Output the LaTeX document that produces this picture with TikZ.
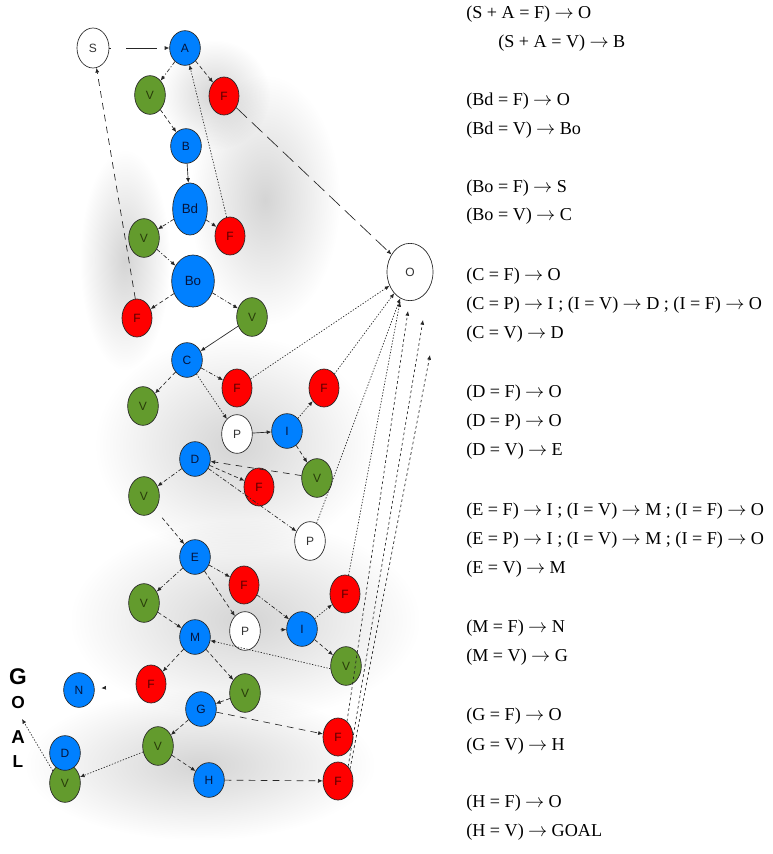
\documentclass[tikz,border=0pt]{standalone}
\usepackage{fontspec}
\setmainfont{Liberation Serif}
\newfontfamily\lblfont{Liberation Sans}
\usetikzlibrary{shapes.geometric,arrows.meta,fadings}

\tikzfading[name=softblob, inner color=transparent!0, outer color=transparent!100]

\definecolor{nblue}{RGB}{0,128,255}
\definecolor{nred}{RGB}{255,0,0}
\definecolor{ngreen}{RGB}{99,155,45}
\definecolor{tblue}{RGB}{5,20,60}
\definecolor{tred}{RGB}{85,0,0}
\definecolor{tgreen}{RGB}{40,60,10}

% long thin arrow used in the rule list
\newcommand\rto{\kern0.24em$\rightarrow$\kern0.24em}

\tikzset{
  basenode/.style={ellipse, draw=black!85, line width=0.5pt, inner sep=0pt,
    font=\lblfont\fontsize{9}{10}\selectfont},
  bnode/.style={basenode, fill=nblue, text=tblue, minimum width=23pt, minimum height=26pt},
  rnode/.style={basenode, fill=nred, text=tred, minimum width=22.5pt, minimum height=28.5pt},
  gnode/.style={basenode, fill=ngreen, text=tgreen, minimum width=23pt, minimum height=29pt},
  wnode/.style={basenode, fill=white, text=black!80, minimum width=23pt, minimum height=29pt},
  arr/.style={-{Latex[length=3.5pt,width=3pt]}, line width=0.5pt, draw=black!85},
  esolid/.style={arr},
  edash/.style={arr, dash pattern=on 3pt off 2pt},
  edot/.style={arr, dash pattern=on 1pt off 1.2pt},
  edd/.style={arr, dash pattern=on 3pt off 1.5pt on 0.8pt off 1.5pt},
  elong/.style={arr, dash pattern=on 11pt off 5pt},
  emid/.style={arr, dash pattern=on 5pt off 4pt},
  rtxt/.style={anchor=west, inner sep=0pt, font=\fontsize{13.6}{16}\selectfont},
  goaltxt/.style={inner sep=0pt, font=\lblfont\bfseries},
  haze/.style={black, opacity=0.17, path fading=softblob}
}

\begin{document}
\begin{tikzpicture}[x=0.75pt,y=-0.75pt]
\useasboundingbox (0,0) rectangle (773,854);
\fill[white] (0,0) rectangle (773,854);

% soft grey haze behind the chart
\fill[haze] (265,200) ellipse (75 and 125);
\fill[haze] (125,260) ellipse (45 and 110);
\fill[haze] (235,445) ellipse (140 and 110);
\fill[haze] (245,620) ellipse (175 and 100);
\fill[haze] (200,765) ellipse (175 and 75);
\fill[haze] (215,95) ellipse (55 and 55);

% nodes
\node[wnode, minimum width=24pt, minimum height=30pt] (S) at (93,48) {S};
\node[bnode] (A) at (185,48) {A};
\node[gnode] (V1) at (150,95) {V};
\node[rnode] (F1) at (224,96) {F};
\node[bnode] (B) at (186,146) {B};
\node[bnode, minimum width=26pt, minimum height=39pt, font=\lblfont\fontsize{10}{11}\selectfont] (Bd) at (190,209) {Bd};
\node[gnode] (V2) at (144,238) {V};
\node[rnode] (F2) at (230,236) {F};
\node[bnode, minimum width=32pt, minimum height=39pt, font=\lblfont\fontsize{10}{11}\selectfont] (Bo) at (193,281) {Bo};
\node[rnode] (F3) at (137,318) {F};
\node[gnode] (V3) at (252,317) {V};
\node[bnode] (C) at (187,360) {C};
\node[rnode] (F4) at (237,388) {F};
\node[gnode] (V4) at (143,406) {V};
\node[wnode] (P1) at (237,434) {P};
\node[bnode] (I1) at (287,431) {I};
\node[rnode] (F5) at (324,388) {F};
\node[bnode] (D1) at (195,459) {D};
\node[rnode] (F6) at (259,487) {F};
\node[gnode] (V5) at (317,478) {V};
\node[gnode] (V6) at (144,496) {V};
\node[wnode] (P2) at (310,541) {P};
\node[wnode, minimum width=34.5pt, minimum height=43pt] (O) at (410,272) {O};
\node[bnode] (E) at (195,557) {E};
\node[rnode] (F7) at (244,585) {F};
\node[gnode] (V7) at (144,603) {V};
\node[wnode] (P3) at (245,631) {P};
\node[bnode] (I2) at (302,629) {I};
\node[rnode] (F8) at (345,594) {F};
\node[bnode] (M) at (195,637) {M};
\node[gnode] (V8) at (346,666) {V};
\node[rnode] (F9) at (151,684) {F};
\node[gnode] (V9) at (245,693) {V};
\node[bnode] (N) at (79,690) {N};
\node[bnode] (G) at (201,709) {G};
\node[gnode] (V10) at (158,746) {V};
\node[bnode] (H) at (209,780) {H};
\node[gnode] (V11) at (65,783) {V};
\node[bnode] (D2) at (65,753) {D};
\node[rnode] (F10) at (338,737) {F};
\node[rnode] (F11) at (338,781) {F};

% GOAL label
\node[goaltxt, font=\lblfont\bfseries\fontsize{17}{18}\selectfont] (gG) at (18,677) {G};
\node[goaltxt, font=\lblfont\bfseries\fontsize{13}{14}\selectfont] (gO) at (18,703) {O};
\node[goaltxt, font=\lblfont\bfseries\fontsize{14}{15}\selectfont] (gA) at (18,737) {A};
\node[goaltxt, font=\lblfont\bfseries\fontsize{13}{14}\selectfont] (gL) at (18,762) {L};

% free ends near O and GOAL
\coordinate (oa) at (400,302);
\coordinate (ob) at (408,311);
\coordinate (oc) at (423,320);
\coordinate (od) at (430,355);
\coordinate (goalpt) at (22,719);

% connectors
\draw[arr, dash pattern=on 1.5pt off 11pt on 22pt off 0pt] (S) -- (A);
\draw[edd] (A) -- (V1);
\draw[edash] (A) -- (F1);
\draw[edash] (V1) -- (B);
\draw[esolid] (B) -- (Bd);
\draw[edot] (F2.100) -- (A.-75);
\draw[elong] (F1) -- (O);
\draw[edd] (Bd) -- (V2);
\draw[edash] (Bd) -- (F2);
\draw[edd] (V2) -- (Bo);
\draw[edash] (Bo) -- (F3);
\draw[edd] (Bo) -- (V3);
\draw[emid] (F3.95) -- (S.-80);
\draw[esolid] (V3) -- (C);
\draw[edash] (C) -- (V4);
\draw[edd] (C) -- (F4);
\draw[edot] (C) -- (P1);
\draw[edot] (F4) -- (O);
\draw[esolid] (P1) -- (I1);
\draw[edot] (I1) -- (F5);
\draw[edot] (F5) -- (O);
\draw[edash] (I1) -- (V5);
\draw[emid] (V5) -- (D1);
\draw[edd] (D1) -- (V6);
\draw[edash] (D1) -- (F6);
\draw[edd] (D1) -- (P2);
\draw[edot] (P2) -- (O);
\draw[edash, shorten <=8pt] (V6) -- (E);
\draw[edd] (E) -- (V7);
\draw[edd] (E) -- (F7);
\draw[edash] (E) -- (P3);
\draw[edd] (F7) -- (I2);
\draw[arr, shorten <=15pt] (P3) -- (I2);
\draw[edot] (I2) -- (F8);
\draw[edash] (I2) -- (V8);
\draw[edot] (F8) -- (oa);
\draw[edash] (V7) -- (M);
\draw[edot] (V8.190) -- (M);
\draw[edash] (M) -- (F9);
\draw[edash] (M) -- (V9);
\draw[arr, shorten <=24pt, shorten >=5pt] (F9) -- (N);
\draw[edash] (V9) -- (G);
\draw[edash] (G) -- (V10);
\draw[emid] (G) -- (F10);
\draw[edash] (V10) -- (H);
\draw[emid] (H) -- (F11);
\draw[edot] (V10) -- (V11);
\draw[edot] (V11.135) -- (goalpt);
\draw[arr, dash pattern=on 2pt off 2pt] (F10.60) -- (ob);
\draw[arr, dash pattern=on 2pt off 2pt] (F11.55) -- (oc);
\draw[arr, dash pattern=on 2pt off 2pt] (F11.45) -- (od);

% rule list
\node[rtxt] (t1) at (466,14) {(S + A = F)\rto O};
\node[rtxt] (t2) at (498,43) {(S + A = V)\rto B};
\node[rtxt] (t3) at (466,101) {(Bd = F)\rto O};
\node[rtxt] (t4) at (466,130) {(Bd = V)\rto Bo};
\node[rtxt] (t5) at (466,188) {(Bo = F)\rto S};
\node[rtxt] (t6) at (466,216) {(Bo = V)\rto C};
\node[rtxt] (t7) at (466,276) {(C = F)\rto O};
\node[rtxt] (t8) at (466,305) {(C = P)\rto I ; (I = V)\rto D ; (I = F)\rto O};
\node[rtxt] (t9) at (466,334) {(C = V)\rto D};
\node[rtxt] (t10) at (466,393) {(D = F)\rto O};
\node[rtxt] (t11) at (466,422) {(D = P)\rto O};
\node[rtxt] (t12) at (466,451) {(D = V)\rto E};
\node[rtxt] (t13) at (466,511) {(E = F)\rto I ; (I = V)\rto M ; (I = F)\rto O};
\node[rtxt] (t14) at (466,540) {(E = P)\rto I ; (I = V)\rto M ; (I = F)\rto O};
\node[rtxt] (t15) at (466,569) {(E = V)\rto M};
\node[rtxt] (t16) at (466,628) {(M = F)\rto N};
\node[rtxt] (t17) at (466,657) {(M = V)\rto G};
\node[rtxt] (t18) at (466,716) {(G = F)\rto O};
\node[rtxt] (t19) at (466,746) {(G = V)\rto H};
\node[rtxt] (t20) at (466,803) {(H = F)\rto O};
\node[rtxt] (t21) at (466,832) {(H = V)\rto GOAL};
\end{tikzpicture}
\end{document}
